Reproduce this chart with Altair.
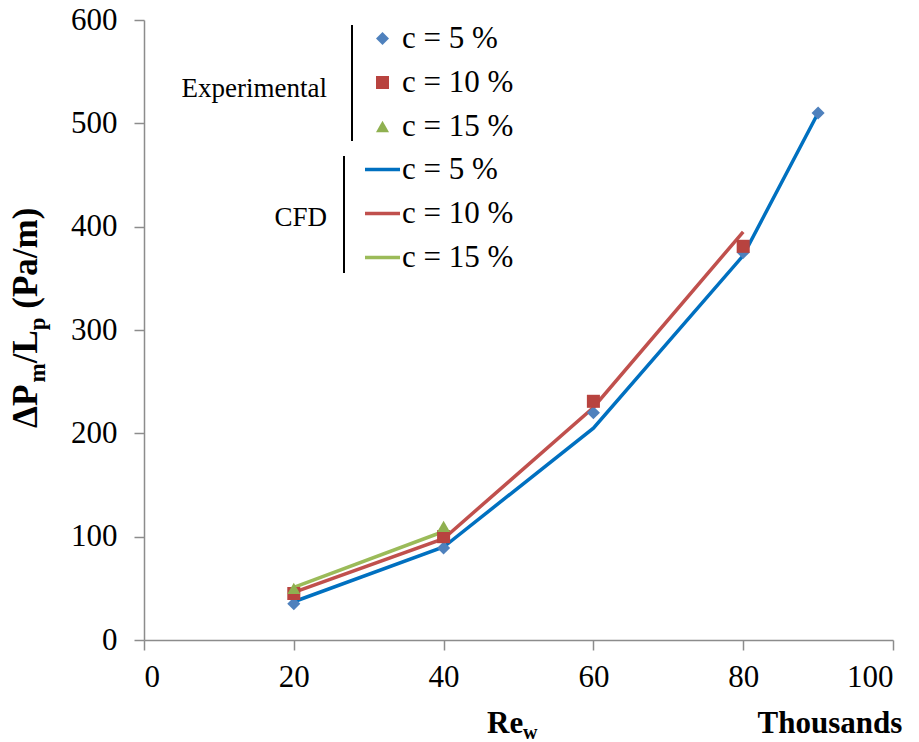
import altair as alt
import pandas as pd

FONT = "Liberation Serif"

# ---------------- data ----------------
series_labels = ["c = 5 %", "c = 10 %", "c = 15 %"]

exp_x_5 = [20, 40, 60, 80, 90]
exp_y_5 = [35, 89, 220, 375, 510]
exp_x_10 = [20, 40, 60, 80]
exp_y_10 = [45, 100, 231, 381]
exp_x_15 = [20, 40]
exp_y_15 = [50, 110]

cfd_x_5 = [20, 40, 60, 80, 90]
cfd_y_5 = [37, 90, 205, 372, 510]
cfd_x_10 = [20, 40, 60, 80]
cfd_y_10 = [46, 98, 225, 395]
cfd_x_15 = [20, 40]
cfd_y_15 = [51, 105]

x_ticks = [0, 20, 40, 60, 80, 100]
y_ticks = [0, 100, 200, 300, 400, 500, 600]

point_colors = ["#4F81BD", "#B8433F", "#8FB050"]
line_colors = ["#0070C0", "#C0504D", "#9BBB59"]
point_shapes = ["diamond", "square", "triangle-up"]


def build(xs_list, ys_list):
    rows = []
    for lab, xs, ys in zip(series_labels, xs_list, ys_list):
        for x, y in zip(xs, ys):
            rows.append({"series": lab, "x": x, "y": y})
    return pd.DataFrame(rows)


exp_df = build([exp_x_5, exp_x_10, exp_x_15], [exp_y_5, exp_y_10, exp_y_15])
cfd_df = build([cfd_x_5, cfd_x_10, cfd_x_15], [cfd_y_5, cfd_y_10, cfd_y_15])
dummy = pd.DataFrame({"k": [0]})

# ---------------- layout ----------------
LEFT, TOP = 144, 20
W, H = 749, 620

x_enc = alt.X("x:Q", scale=alt.Scale(domain=[0, 100], nice=False),
              axis=alt.Axis(values=x_ticks, title=None, format="d",
                            labelFont=FONT, labelPadding=12))
y_enc = alt.Y("y:Q", scale=alt.Scale(domain=[0, 600], nice=False),
              axis=alt.Axis(values=y_ticks, title=None, format="d",
                            labelFont=FONT, labelPadding=17))

exp_legend = alt.Legend(title=None, orient="none", legendX=367 - LEFT, legendY=3,
                        labelOffset=4, symbolSize=170, symbolStrokeWidth=0,
                        rowPadding=12, labelFont=FONT, labelFontSize=31)

lines = alt.Chart(cfd_df).mark_line(strokeWidth=3.5).encode(
    x=x_enc, y=y_enc,
    color=alt.Color("series:N",
                    scale=alt.Scale(domain=series_labels, range=line_colors),
                    legend=alt.Legend(title=None, orient="none",
                                      legendX=363 - LEFT, legendY=130,
                                      labelOffset=0, labelFont=FONT, labelFontSize=31,
                                      symbolType="stroke", symbolSize=1225,
                                      symbolStrokeWidth=3.5, rowPadding=9)),
)

points = alt.Chart(exp_df).mark_point(filled=True, opacity=1, size=170).encode(
    x=x_enc, y=y_enc,
    color=alt.Color("series:N",
                    scale=alt.Scale(domain=series_labels, range=point_colors),
                    legend=exp_legend),
    shape=alt.Shape("series:N",
                    scale=alt.Scale(domain=series_labels, range=point_shapes),
                    legend=exp_legend),
)


def bar(x, y1, y2):
    return alt.Chart(dummy).mark_rule(color="black", strokeWidth=2).encode(
        x=alt.value(x - LEFT), y=alt.value(y1 - TOP), y2=alt.value(y2 - TOP))


def txt(text, x, y, size, bold=True, angle=0, align="left"):
    return alt.Chart(dummy).mark_text(
        text=text, font=FONT, fontSize=size,
        fontWeight="bold" if bold else "normal",
        angle=angle, align=align, baseline="alphabetic", color="black"
    ).encode(x=alt.value(x - LEFT), y=alt.value(y - TOP))


# y-axis title pieces, reading bottom to top
YB = 37          # baseline x of rotated text
MAIN, SUB = 35, 23
widths = {"ΔP": 1.30, "m": 0.833, "/L": 0.945, "p": 0.556, "(Pa/m)": 2.888}
segs = []
pos = 428
for text, size, dx, gap in [("ΔP", MAIN, 0, 0), ("m", SUB, 8, 0), ("/L", MAIN, 0, 0),
                            ("p", SUB, 8, 0), ("(Pa/m)", MAIN, 0, 0.25 * MAIN)]:
    pos -= gap
    segs.append(txt(text, YB + dx, pos, size, angle=270))
    pos -= widths[text] * size

titles = [
    txt("Re", 487, 733, 31),
    txt("w", 523, 739, 20),
    txt("Thousands", 830, 733, 31, align="center"),
    txt("Experimental", 327, 97, 27, bold=False, align="right"),
    txt("CFD", 327, 226, 27, bold=False, align="right"),
]

bars = [bar(352, 25, 141), bar(344, 156, 273)]

chart = alt.layer(lines, points, *bars, *segs, *titles).resolve_scale(
    color="independent", shape="independent"
).properties(
    width=W, height=H,
    autosize=alt.AutoSizeParams(type="none"),
    padding={"left": LEFT, "top": TOP, "right": 919 - LEFT - W, "bottom": 742 - TOP - H},
).configure(font=FONT).configure_view(stroke=None).configure_axis(
    grid=False, domainColor="#8C8C8C", tickColor="#8C8C8C", domainWidth=1.5,
    tickWidth=1.5, tickSize=10, labelFont=FONT, labelFontSize=31,
    labelColor="black",
).configure_legend(
    labelFont=FONT, labelFontSize=31, labelColor="black",
)

chart.save("out.html", embed_options={"renderer": "svg", "actions": False})
